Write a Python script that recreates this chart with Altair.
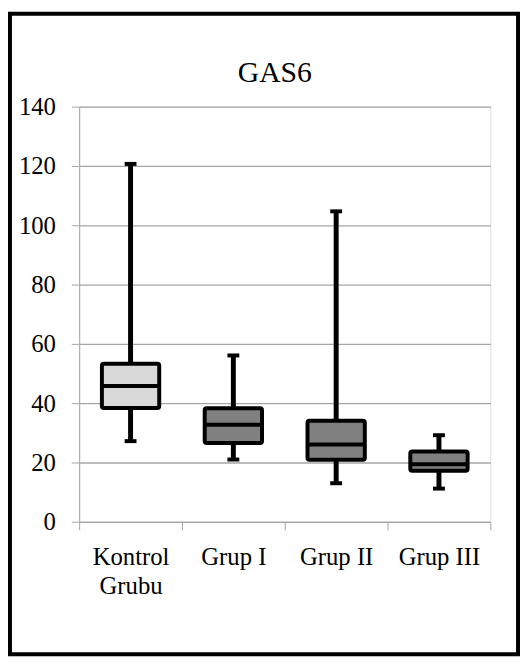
import altair as alt
import pandas as pd

groups = ["Kontrol Grubu", "Grup I", "Grup II", "Grup III"]
mins = [27.2, 21.0, 13.0, 11.2]
q1s = [38.4, 26.6, 20.9, 17.2]
medians = [45.8, 32.7, 26.1, 19.4]
q3s = [53.3, 38.3, 34.1, 23.7]
maxs = [120.7, 56.1, 104.7, 29.2]
fills = ["#d9d9d9", "#808080", "#808080", "#808080"]
chart_title = "GAS6"

df = pd.DataFrame({"group": groups, "min": mins, "q1": q1s, "median": medians,
                   "q3": q3s, "max": maxs})

FONT = "Liberation Serif"
GRID = "#a6a6a6"

x = alt.X("group:N", sort=groups, title=None,
          scale=alt.Scale(paddingInner=0, paddingOuter=0),
          axis=alt.Axis(labelAngle=0, labelFont=FONT, labelFontSize=25, labelColor="black",
                        labelPadding=15, labelLineHeight=30,
                        labelExpr="datum.value == 'Kontrol Grubu' ? ['Kontrol', 'Grubu'] : datum.label",
                        tickBand="extent", tickColor=GRID, tickSize=8, domainColor=GRID,
                        grid=False))
yscale = alt.Scale(domain=[0, 140], nice=False)
yaxis = alt.Axis(values=[0, 20, 40, 60, 80, 100, 120, 140], labelFont=FONT, labelFontSize=25,
                 labelColor="black", labelPadding=16, tickColor=GRID, tickSize=8,
                 domainColor=GRID, gridColor=GRID, gridWidth=1.3)

base = alt.Chart(df)

whisker = base.mark_rule(color="black", strokeWidth=5).encode(
    x=x, y=alt.Y("min:Q", scale=yscale, axis=yaxis, title=None), y2="max:Q")
caps_lo = base.mark_tick(color="black", thickness=4, size=12, opacity=1).encode(
    x=x, y=alt.Y("min:Q", scale=yscale))
caps_hi = base.mark_tick(color="black", thickness=4, size=12, opacity=1).encode(
    x=x, y=alt.Y("max:Q", scale=yscale))
box = base.mark_bar(size=58, stroke="black", strokeWidth=4, cornerRadius=2,
                    strokeJoin="round").encode(
    x=x, y=alt.Y("q1:Q", scale=yscale), y2="q3:Q",
    fill=alt.Fill("group:N", scale=alt.Scale(domain=groups, range=fills), legend=None))
med = base.mark_tick(color="black", thickness=4, size=58, opacity=1).encode(
    x=x, y=alt.Y("median:Q", scale=yscale))

frame = alt.Chart(pd.DataFrame({"a": [0]})).mark_rect(
    fill="transparent", stroke="black", strokeWidth=4).encode(
    x=alt.value(-70), x2=alt.value(444), y=alt.value(-94), y2=alt.value(554))

title = alt.Chart(pd.DataFrame({"t": [chart_title]})).mark_text(
    font=FONT, fontSize=30, color="black", align="center", baseline="alphabetic").encode(
    text="t:N", x=alt.value(198), y=alt.value(-25))

chart = alt.layer(frame, whisker, box, med, caps_lo, caps_hi, title).properties(
    width=416, height=420,
    autosize=alt.AutoSizeParams(type="none"),
    padding={"left": 72, "top": 96, "right": 30, "bottom": 136},
).configure_view(stroke=None).configure(background="white")

chart.save("out.html", embed_options={"renderer": "svg", "actions": False})
